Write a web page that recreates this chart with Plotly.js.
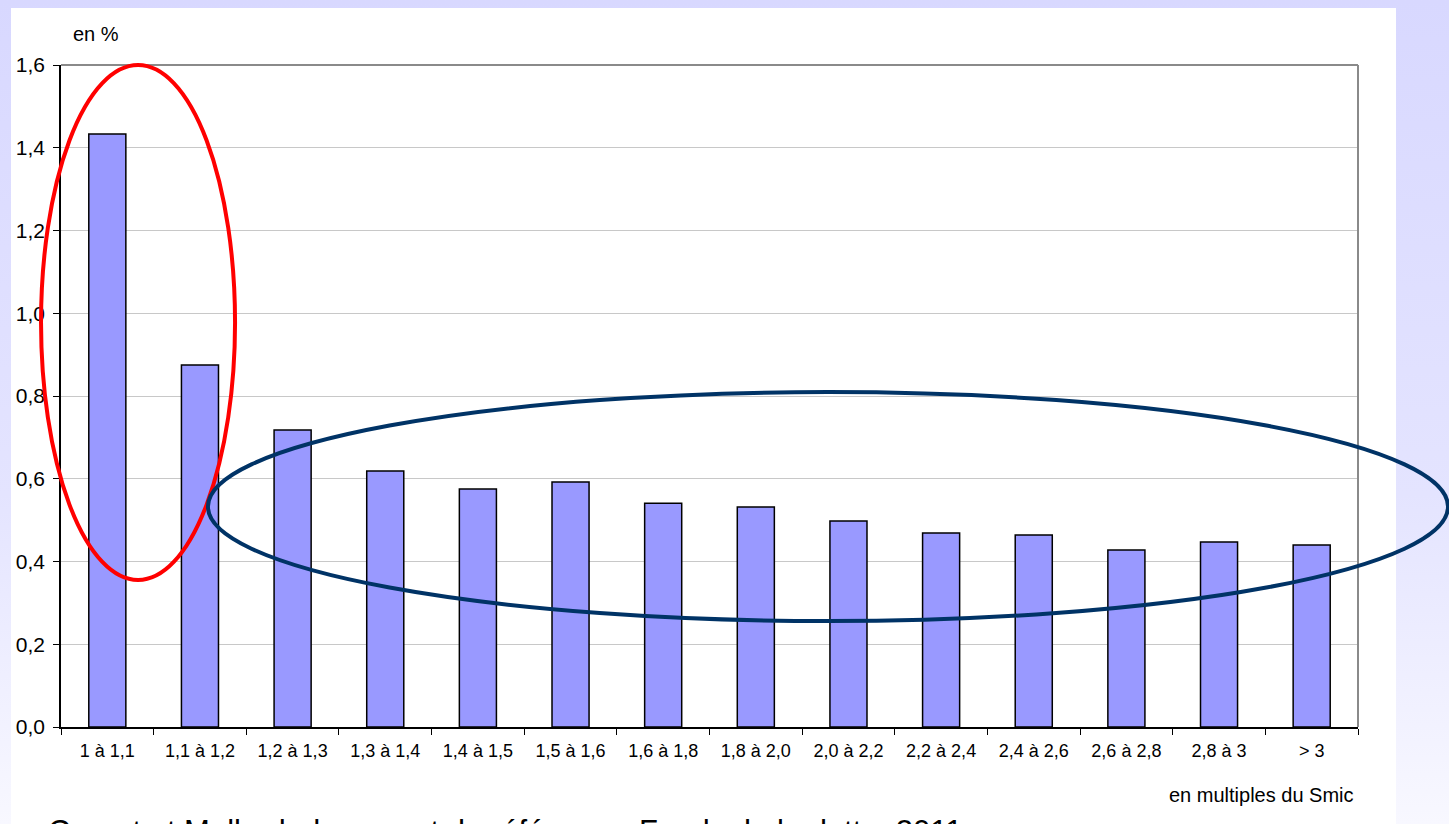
<!DOCTYPE html>
<html>
<head>
<meta charset="utf-8">
<script src="https://cdn.plot.ly/plotly-3.0.1.min.js"></script>
<style>
  html, body { margin: 0; padding: 0; width: 1449px; height: 824px; overflow: hidden; }
  body { background: linear-gradient(#d8d8ff 0%, #e4e4ff 60%, #f8f8ff 100%); position: relative; }
  #panel { position: absolute; left: 11px; top: 8px; width: 1385px; height: 830px; background: #ffffff; }
  #chart { position: absolute; left: 0; top: 0; width: 1449px; height: 824px; }
</style>
</head>
<body>
<div id="panel"></div>
<div id="chart"></div>
<script>
const categories = [
  "1 à 1,1", "1,1 à 1,2", "1,2 à 1,3", "1,3 à 1,4", "1,4 à 1,5",
  "1,5 à 1,6", "1,6 à 1,8", "1,8 à 2,0", "2,0 à 2,2", "2,2 à 2,4",
  "2,4 à 2,6", "2,6 à 2,8", "2,8 à 3", "> 3",
];
const values = [
  1.433, 0.875, 0.718, 0.619, 0.575, 0.592, 0.541,
  0.532, 0.498, 0.469, 0.464, 0.428, 0.447, 0.44,
];
const yTicks = [0, 0.2, 0.4, 0.6, 0.8, 1.0, 1.2, 1.4, 1.6];

const font = "Liberation Sans, Arial, sans-serif";

const traces = [
  {
    type: "bar",
    x: categories,
    y: values,
    marker: {
      color: "#9999ff",
      line: { color: "#000000", width: 1.5 },
    },
    hoverinfo: "x+y",
  },
];

const layout = {
  width: 1449,
  height: 824,
  margin: { l: 61, r: 91, t: 65, b: 97 },
  paper_bgcolor: "rgba(0,0,0,0)",
  plot_bgcolor: "rgba(0,0,0,0)",
  showlegend: false,
  bargap: 0.6,
  separators: ", ",
  font: { family: font, color: "#000000" },
  xaxis: {
    type: "category",
    tickson: "boundaries",
    ticks: "outside",
    ticklen: 6,
    tickcolor: "#000000",
    showline: true,
    linecolor: "#000000",
    linewidth: 1.5,
    showgrid: false,
    tickfont: { size: 18, family: font },
    ticklabelstandoff: 7,
    automargin: false,
  },
  yaxis: {
    range: [0, 1.6],
    tickvals: yTicks,
    tickformat: ".1f",
    ticks: "outside",
    ticklen: 6,
    tickcolor: "#000000",
    showline: true,
    linecolor: "#000000",
    linewidth: 1.5,
    gridcolor: "#c8c8c8",
    gridwidth: 1,
    zeroline: false,
    tickfont: { size: 21, family: font },
    ticklabelstandoff: 4,
    automargin: false,
  },
  shapes: [
    {
      type: "line", xref: "paper", yref: "paper",
      x0: 0, x1: 1, y0: 1, y1: 1,
      line: { color: "#8a8a8a", width: 2 },
    },
    {
      type: "line", xref: "paper", yref: "paper",
      x0: 1, x1: 1, y0: 0, y1: 1,
      line: { color: "#8a8a8a", width: 2 },
    },
    {
      type: "circle", xref: "paper", yref: "paper",
      x0: -0.0154, x1: 0.1342, y0: 0.222, y1: 1.0,
      line: { color: "#ff0000", width: 4 },
    },
    {
      type: "circle", xref: "paper", yref: "paper",
      x0: 0.1133, x1: 1.0694, y0: 0.16, y1: 0.506,
      line: { color: "#003366", width: 4 },
    },
  ],
  annotations: [
    {
      text: "en %", xref: "paper", yref: "paper",
      x: 0.008, y: 1.047, xanchor: "left", yanchor: "middle",
      showarrow: false, font: { size: 20, family: font },
    },
    {
      text: "en multiples du Smic", xref: "paper", yref: "paper",
      x: 0.9985, y: -0.103, xanchor: "right", yanchor: "middle",
      showarrow: false, font: { size: 20, family: font },
    },
    {
      text: "Cornut et Mallard, document de référence, Fonds de la dette, 2011",
      xref: "paper", yref: "paper",
      x: -0.0115, y: -0.128, xanchor: "left", yanchor: "top",
      showarrow: false, font: { size: 31, family: font },
    },
  ],
};

Plotly.newPlot("chart", traces, layout, { displayModeBar: false });
</script>
</body>
</html>
